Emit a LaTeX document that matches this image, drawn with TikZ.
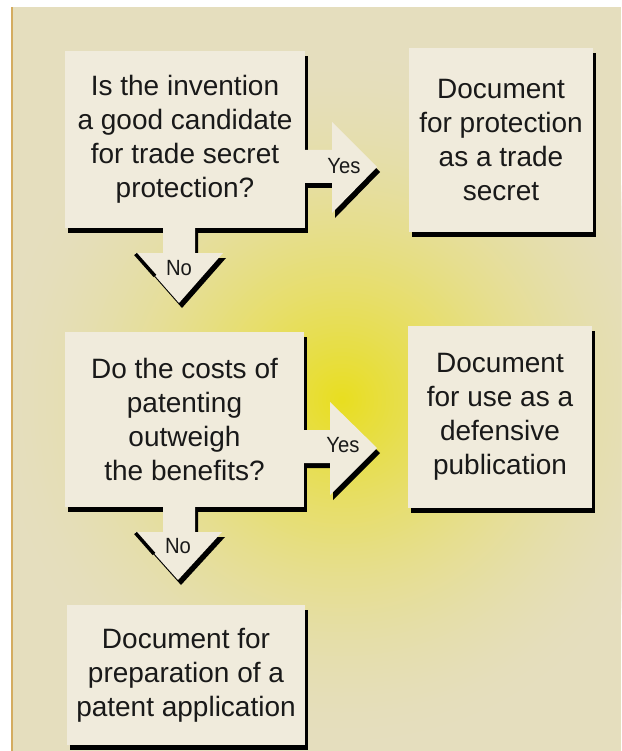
\documentclass[tikz,border=0pt]{standalone}
\usepackage{fontspec}
\setmainfont{Liberation Sans}
\usetikzlibrary{shadows}
\definecolor{bgc}{RGB}{229,222,190}
\definecolor{glowc}{RGB}{232,222,30}
\definecolor{boxc}{RGB}{240,235,220}
\definecolor{edgec}{RGB}{212,172,96}
\definecolor{textc}{RGB}{25,25,25}
\tikzset{
  box/.style={rectangle, fill=boxc, inner sep=0pt, align=center, text=textc,
    font=\fontsize{28}{34}\selectfont,
    drop shadow={opacity=1, fill=black, shadow xshift=3pt, shadow yshift=-5pt}},
  arrowfill/.style={fill=boxc},
  arrowshadow/.style={fill=black, shift={(3pt,-5pt)}},
  lbl/.style={text=textc, inner sep=0pt, font=\fontsize{22}{24}\selectfont},
  notch/.style={draw=black, line width=3.5pt}
}
\begin{document}
\begin{tikzpicture}[x=1pt,y=-1pt]
\useasboundingbox (0,0) rectangle (621,751);
% background
\fill[white] (0,0) rectangle (621,751);
\fill[bgc] (11,7) rectangle (621,751);
\begin{scope}
  \clip (13,7) rectangle (621,751);
  \foreach \r in {352,348,...,2} {
    \pgfmathsetmacro\p{100*(1-\r/352)^1.7}
    \fill[glowc!\p!bgc] (342,400) circle[radius=\r pt];
  }
\end{scope}
\fill[edgec] (11,7) rectangle (13,751);

% boxes
\node[box, minimum width=240pt, minimum height=177pt] (q1) at (185,139.5)
  {Is the invention\\a good candidate\\for trade secret\\protection?};
\node[box, minimum width=184pt, minimum height=184pt] (d1) at (501,140)
  {Document\\for protection\\as a trade\\secret};
\node[box, minimum width=239pt, minimum height=175pt] (q2) at (184.5,419.5)
  {Do the costs of\\patenting\\outweigh\\the benefits?};
\node[box, minimum width=184pt, minimum height=182pt] (d2) at (500,417)
  {Document\\for use as a\\defensive\\publication};
\node[box, minimum width=238pt, minimum height=140pt] (d3) at (186,675)
  {Document for\\preparation of a\\patent application};

% arrow shapes
\def\yesA{(304.5,150) -- (332,150) -- (332,122) -- (377,167) -- (332,213) -- (332,183) -- (304.5,183) -- cycle}
\def\noA{(163,227.5) -- (163,253) -- (135,253) -- (179,303) -- (223,253) -- (195,253) -- (195,227.5) -- cycle}
\def\yesB{(303.5,430) -- (330,430) -- (330,402) -- (377,448) -- (330,495) -- (330,463) -- (303.5,463) -- cycle}
\def\noB{(163,506.5) -- (163,532) -- (135,532) -- (178,580) -- (222,532) -- (195,532) -- (195,506.5) -- cycle}

\fill[arrowshadow] \yesA;
\fill[arrowshadow] \noA;
\fill[arrowshadow] \yesB;
\fill[arrowshadow] \noB;
\fill[arrowfill] \yesA;
\fill[arrowfill] \noA;
\fill[arrowfill] \yesB;
\fill[arrowfill] \noB;
\draw[notch] (135.5,254) -- (155,276);
\draw[notch] (135.5,533) -- (154,554);

% labels
\node[lbl] (y1) at (344,166) {\scalebox{0.92}[1]{Yes}};
\node[lbl] (n1) at (179,268) {\scalebox{0.92}[1]{No}};
\node[lbl] (y2) at (343,445) {\scalebox{0.92}[1]{Yes}};
\node[lbl] (n2) at (178,546) {\scalebox{0.92}[1]{No}};
\end{tikzpicture}
\end{document}
